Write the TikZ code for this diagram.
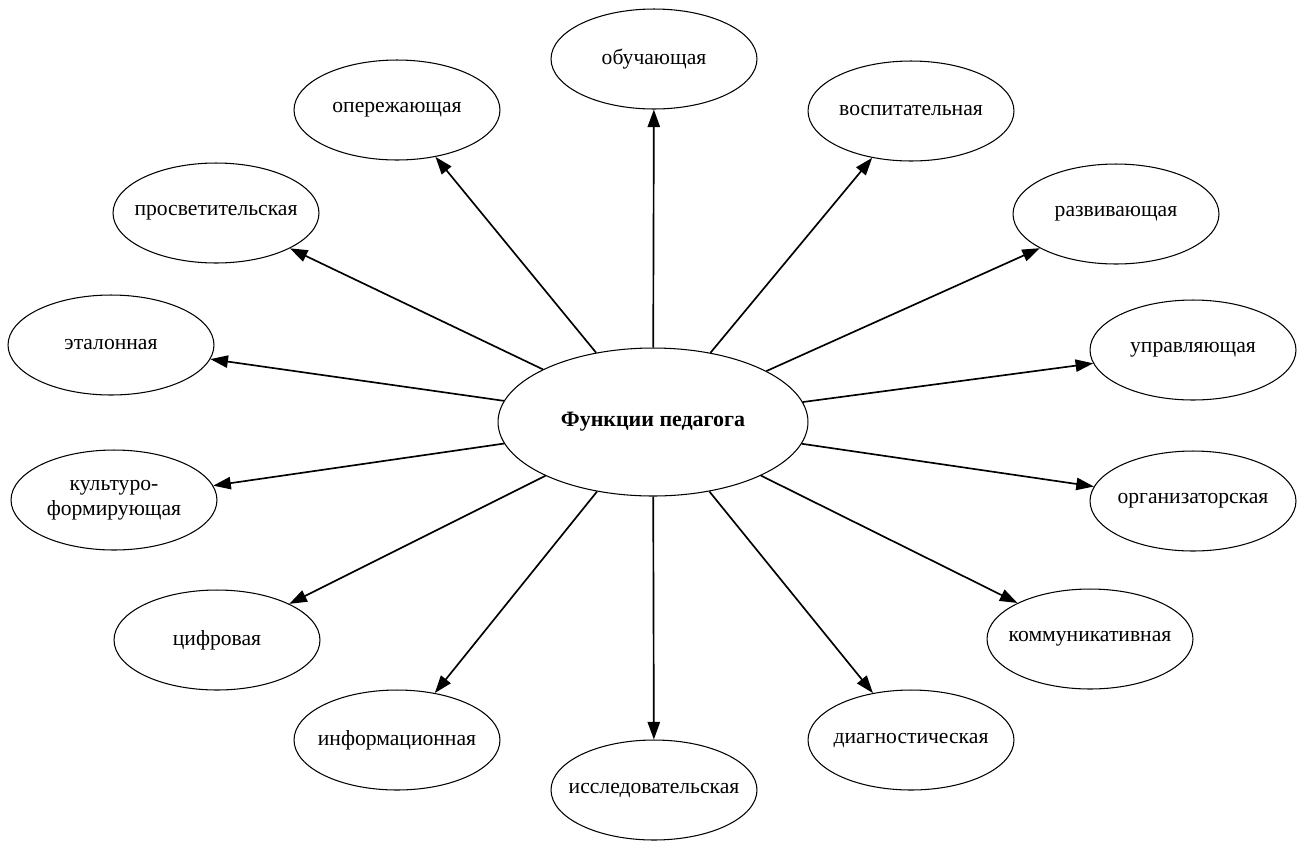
\documentclass[tikz,border=0pt]{standalone}
\usepackage{fontspec}
\setmainfont{Liberation Serif}
\usetikzlibrary{shapes.geometric,arrows.meta}

\begin{document}
\begin{tikzpicture}[x=0.02cm,y=-0.02cm,
  func/.style={draw,ellipse,line width=0.6pt,minimum width=4.12cm,minimum height=2cm,inner xsep=-20pt,inner ysep=0pt,align=center,font=\fontsize{12.3}{14.5}\selectfont},
  core/.style={func,minimum width=6.2cm,minimum height=2.96cm,font=\bfseries\fontsize{12.5}{14.5}\selectfont},
  link/.style={line width=0.95pt,-{Triangle[length=10pt,width=7pt]}}]
\useasboundingbox (0,0) rectangle (1298,843);
% centre
\node[core] (funk) at (653,422) {Функции педагога};
% functions, clockwise from the top
\node[func] (obuch)   at (654,59)   {обучающая};
\node[func] (vospit)  at (911,111)  {воспитательная};
\node[func] (razviv)  at (1116,214) {развивающая};
\node[func] (uprav)   at (1193,350) {управляющая};
\node[func] (organiz) at (1193,501) {организаторская};
\node[func] (kommun)  at (1090,639) {коммуникативная};
\node[func] (diagn)   at (911,740)  {диагностическая};
\node[func] (issled)  at (654,790)  {исследовательская};
\node[func] (inform)  at (397,740)  {информационная};
\node[func] (cifr)    at (217,640)  {цифровая};
\node[func] (kultur)  at (114,500)  {культуро-\\формирующая};
\node[func] (etalon)  at (111,345)  {эталонная};
\node[func] (prosvet) at (216,213)  {просветительская};
\node[func] (operezh) at (397,110)  {опережающая};
% arrows
\foreach \n in {obuch,vospit,razviv,uprav,organiz,kommun,diagn,issled,inform,cifr,kultur,etalon,prosvet,operezh}
  \draw[link] (funk) -- (\n);
\end{tikzpicture}
\end{document}
